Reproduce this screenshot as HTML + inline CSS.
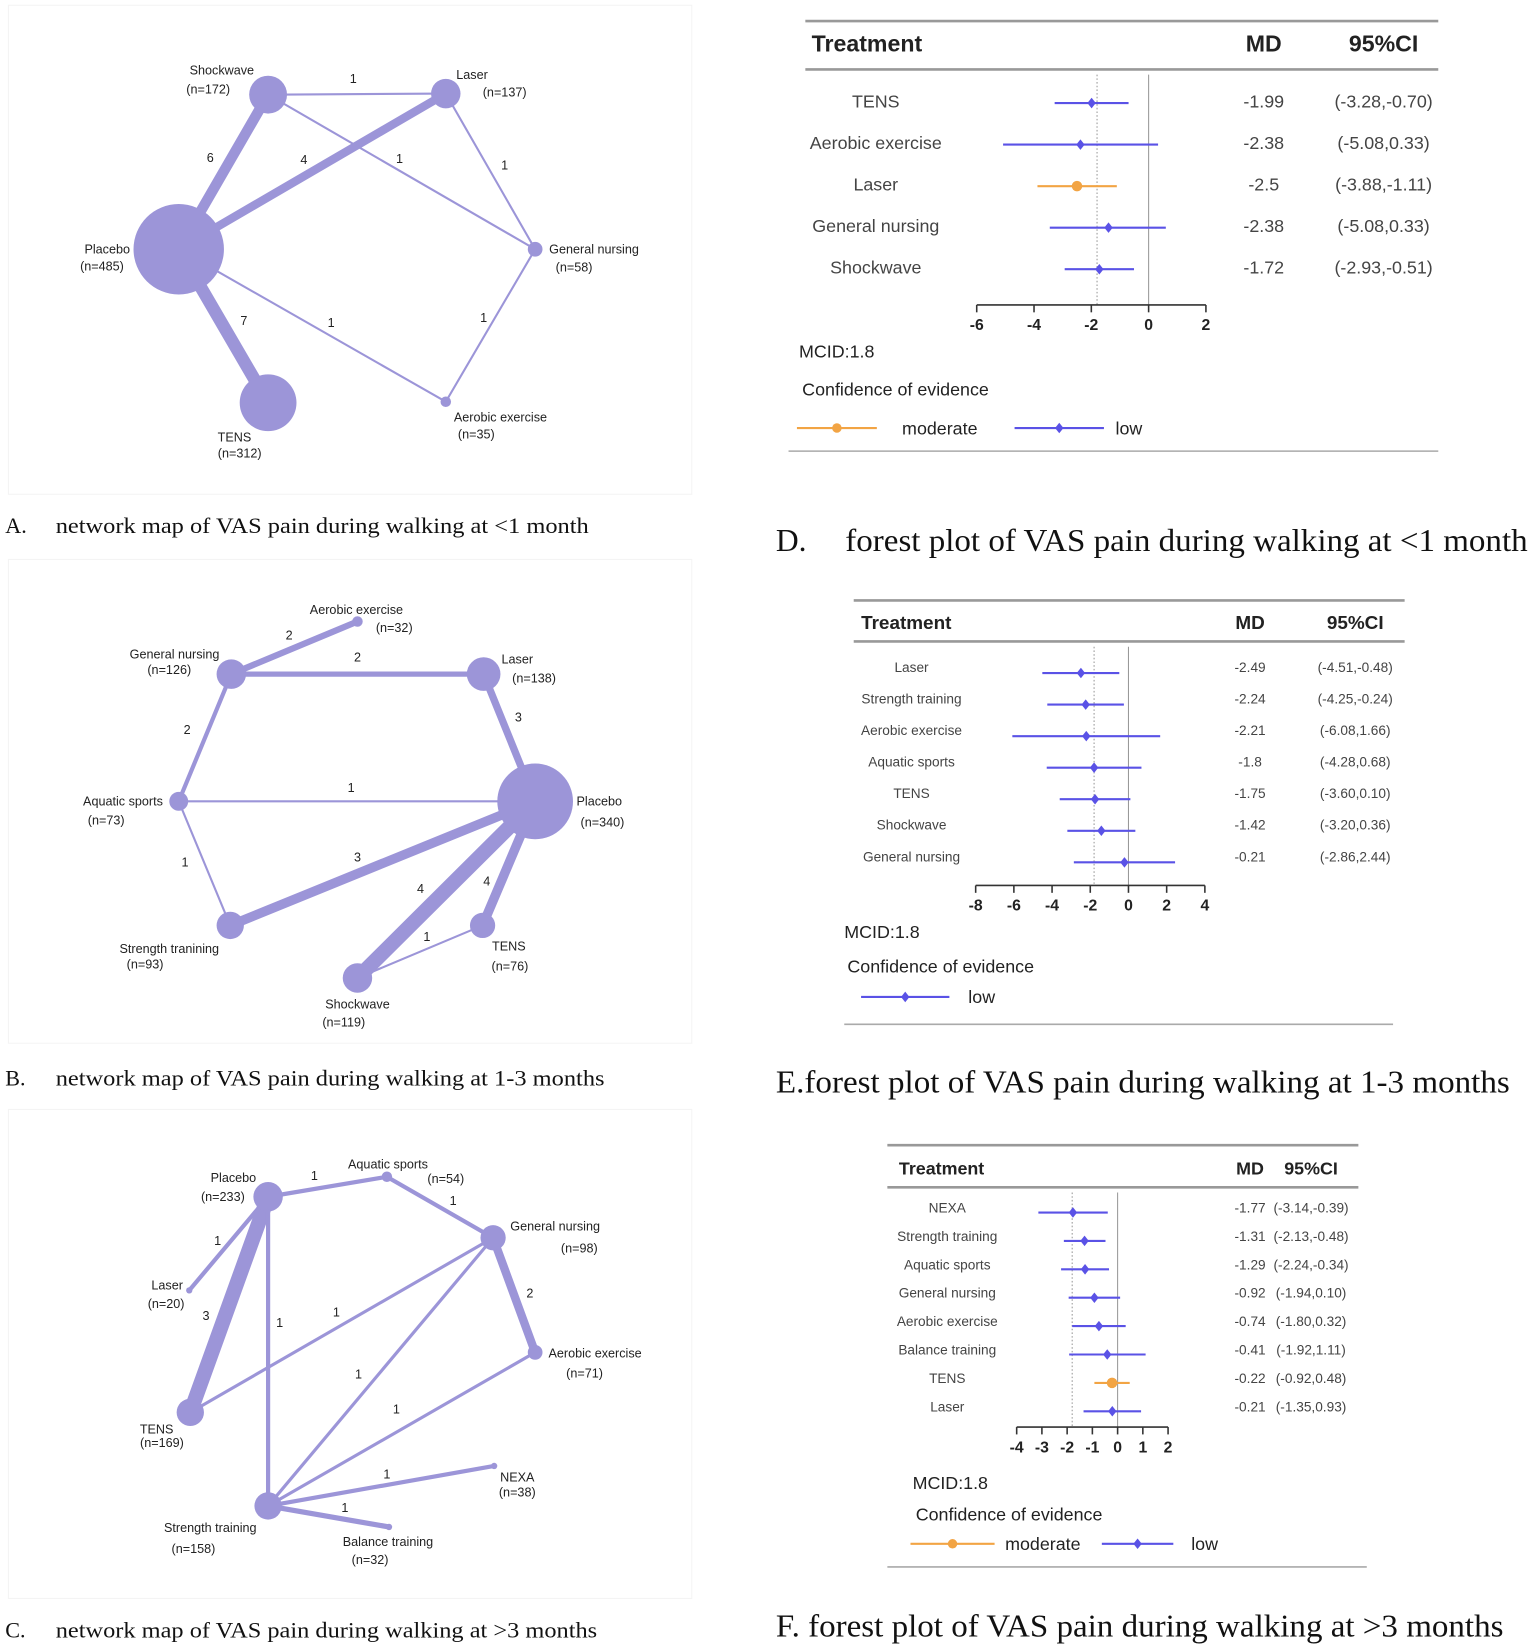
<!DOCTYPE html>
<html><head><meta charset="utf-8"><style>
html,body{margin:0;padding:0;background:#fff;}
svg{display:block;}
.nl{font-family:"Liberation Sans",Arial,sans-serif;font-size:12px;fill:#222;}
.cap{font-family:"Liberation Serif",serif;fill:#111;}
.fs{font-family:"Liberation Sans",Arial,sans-serif;}
</style></head><body>
<svg id="fig" width="1535" height="1650" viewBox="0 0 1460 1569" preserveAspectRatio="none" xmlns="http://www.w3.org/2000/svg">
<rect x="8" y="5" width="650" height="465" fill="none" stroke="#f4f4f4"/>
<rect x="8" y="532" width="650" height="460" fill="none" stroke="#f4f4f4"/>
<rect x="8" y="1055" width="650" height="465" fill="none" stroke="#f4f4f4"/>
<g id="gA"></g>
<g id="gB"></g>
<g id="gC"></g>
<g id="fD"></g>
<g id="fE"></g>
<g id="fF"></g>
<g><text class="cap" x="5" y="507" font-size="21">A.</text><text class="cap" x="53" y="507" font-size="21" textLength="507" lengthAdjust="spacingAndGlyphs">network map of VAS pain during walking at &lt;1 month</text></g>
<g><text class="cap" x="5" y="1032" font-size="21">B.</text><text class="cap" x="53" y="1032" font-size="21" textLength="522" lengthAdjust="spacingAndGlyphs">network map of VAS pain during walking at 1-3 months</text></g>
<g><text class="cap" x="5" y="1557" font-size="21">C.</text><text class="cap" x="53" y="1557" font-size="21" textLength="515" lengthAdjust="spacingAndGlyphs">network map of VAS pain during walking at &gt;3 months</text></g>
<g><text class="cap" x="738" y="524" font-size="30">D.</text><text class="cap" x="804" y="524" font-size="30" textLength="649" lengthAdjust="spacingAndGlyphs">forest plot of VAS pain during walking at &lt;1 month</text></g>
<text class="cap" x="738" y="1039" font-size="30" textLength="698" lengthAdjust="spacingAndGlyphs">E.forest plot of VAS pain during walking at 1-3 months</text>
<text class="cap" x="738" y="1556" font-size="30" textLength="692" lengthAdjust="spacingAndGlyphs">F. forest plot of VAS pain during walking at &gt;3 months</text>
</svg>
<script>
// ---- Network data ----
const nodesA = [["Shockwave",255,90,18],["Laser",424,89,14],["Placebo",170,237,43],["General nursing",509,237,7],["Aerobic exercise",424,382,5],["TENS",255,383,27]];
const labelsA = [["Shockwave",211,71,"(n=172)",198,89],["Laser",449,75,"(n=137)",480,92],["Placebo",102,241,"(n=485)",97,257],["General nursing",565,241,"(n=58)",546,258],["Aerobic exercise",476,401,"(n=35)",453,417],["TENS",223,420,"(n=312)",228,435]];
const edgesA = [[0,1,2,"1",336,79],[0,2,10,"6",200,154],[1,2,8,"4",289,156],[0,3,2,"1",380,155],[1,3,2,"1",480,161],[2,5,12,"7",232,309],[2,4,2,"1",315,311],[3,4,2,"1",460,306]];
const nodesB = [["Aerobic exercise",340,591,5],["General nursing",220,641,14],["Laser",460,641,16],["Aquatic sports",170,762,9],["Placebo",509,762,36],["Strength tranining",219,880,13],["TENS",459,880,12],["Shockwave",340,930,14]];
const labelsB = [["Aerobic exercise",339,584,"(n=32)",375,601],["General nursing",166,626,"(n=126)",161,641],["Laser",492,631,"(n=138)",508,649],["Aquatic sports",117,766,"(n=73)",101,784],["Placebo",570,766,"(n=340)",573,786],["Strength tranining",161,906,"(n=93)",138,921],["TENS",484,904,"(n=76)",485,923],["Shockwave",340,959,"(n=119)",327,976]];
const edgesB = [[1,0,6,"2",275,608],[1,2,5,"2",340,629],[1,3,4,"2",178,698],[2,4,7,"3",493,686],[3,4,2,"1",334,753],[3,5,2,"1",176,824],[5,4,9,"3",340,819],[7,4,14,"4",400,849],[6,4,9,"4",463,842],[7,6,2,"1",406,895]];
const nodesC = [["Placebo",255,1138,14],["Aquatic sports",368,1119,5],["General nursing",469,1177,12],["Laser",180,1227,3],["Aerobic exercise",509,1286,7],["TENS",181,1343,13],["Strength training",255,1432,13],["NEXA",470,1394,3],["Balance training",370,1452,3]];
const labelsC = [["Placebo",222,1124,"(n=233)",212,1142],["Aquatic sports",369,1111,"(n=54)",424,1125],["General nursing",528,1170,"(n=98)",551,1191],["Laser",159,1226,"(n=20)",158,1244],["Aerobic exercise",566,1291,"(n=71)",556,1310],["TENS",149,1363,"(n=169)",154,1376],["NEXA",492,1409,"(n=38)",492,1423],["Strength training",200,1457,"(n=158)",184,1477],["Balance training",369,1470,"(n=32)",352,1487]];
const edgesC = [[0,1,4,"1",299,1122],[1,2,4,"1",431,1146],[0,3,4,"1",207,1184],[0,5,14,"3",196,1255],[0,6,4,"1",266,1262],[2,5,3,"1",320,1252],[2,4,8,"2",504,1234],[2,6,3,"1",341,1311],[4,6,3,"1",377,1344],[6,7,4,"1",368,1406],[6,8,5,"1",328,1438]];

// ---- Forest data ----
const treatD = ["TENS","Aerobic exercise","Laser","General nursing","Shockwave"];
const mdTextD = ["-1.99","-2.38","-2.5","-2.38","-1.72"];
const ciTextD = ["(-3.28,-0.70)","(-5.08,0.33)","(-3.88,-1.11)","(-5.08,0.33)","(-2.93,-0.51)"];
const ptD = [-1.99,-2.38,-2.5,-1.4,-1.72];
const loD = [-3.28,-5.08,-3.88,-3.45,-2.93];
const hiD = [-0.70,0.33,-1.11,0.6,-0.51];
const gradeD = ["low","low","moderate","low","low"];
const ticksD = [-6,-4,-2,0,2];

const treatE = ["Laser","Strength training","Aerobic exercise","Aquatic sports","TENS","Shockwave","General nursing"];
const mdTextE = ["-2.49","-2.24","-2.21","-1.8","-1.75","-1.42","-0.21"];
const ciTextE = ["(-4.51,-0.48)","(-4.25,-0.24)","(-6.08,1.66)","(-4.28,0.68)","(-3.60,0.10)","(-3.20,0.36)","(-2.86,2.44)"];
const ptE = [-2.49,-2.24,-2.21,-1.8,-1.75,-1.42,-0.21];
const loE = [-4.51,-4.25,-6.08,-4.28,-3.60,-3.20,-2.86];
const hiE = [-0.48,-0.24,1.66,0.68,0.10,0.36,2.44];
const gradeE = ["low","low","low","low","low","low","low"];
const ticksE = [-8,-6,-4,-2,0,2,4];

const treatF = ["NEXA","Strength training","Aquatic sports","General nursing","Aerobic exercise","Balance training","TENS","Laser"];
const mdTextF = ["-1.77","-1.31","-1.29","-0.92","-0.74","-0.41","-0.22","-0.21"];
const ciTextF = ["(-3.14,-0.39)","(-2.13,-0.48)","(-2.24,-0.34)","(-1.94,0.10)","(-1.80,0.32)","(-1.92,1.11)","(-0.92,0.48)","(-1.35,0.93)"];
const ptF = [-1.77,-1.31,-1.29,-0.92,-0.74,-0.41,-0.22,-0.21];
const loF = [-3.14,-2.13,-2.24,-1.94,-1.80,-1.92,-0.92,-1.35];
const hiF = [-0.39,-0.48,-0.34,0.10,0.32,1.11,0.48,0.93];
const gradeF = ["low","low","low","low","low","low","moderate","low"];
const ticksF = [-4,-3,-2,-1,0,1,2];
const MCID = 1.8;

const NS = "http://www.w3.org/2000/svg";
function mk(tag, attrs, parent){const e=document.createElementNS(NS,tag);for(const k in attrs)e.setAttribute(k,attrs[k]);parent.appendChild(e);return e;}
const NET = "#9c95d8";

function drawNet(g, nodes, labels, edges){
  edges.forEach(ed=>{
    const a=nodes[ed[0]], b=nodes[ed[1]];
    const l=mk("line",{x1:a[1],y1:a[2],x2:b[1],y2:b[2],stroke:NET,"stroke-width":ed[2],"stroke-linecap":"round"},g);
    
    
    const t=mk("text",{x:ed[4],y:ed[5],"text-anchor":"middle",class:"nl"},g);t.textContent=ed[3];
    
    
  });
  nodes.forEach(n=>{
    const c=mk("circle",{cx:n[1],cy:n[2],r:n[3],fill:NET},g);
    
    
  });
  labels.forEach(l=>{
    const t=mk("text",{x:l[1],y:l[2],"text-anchor":"middle",class:"nl"},g);t.textContent=l[0];
    
    
    const t2=mk("text",{x:l[4],y:l[5],"text-anchor":"middle",class:"nl"},g);t2.textContent=l[3];
    
    
  });
}
drawNet(document.getElementById("gA"),nodesA,labelsA,edgesA);
drawNet(document.getElementById("gB"),nodesB,labelsB,edgesB);
drawNet(document.getElementById("gC"),nodesC,labelsC,edgesC);

const BLUE="#5a52e6", ORG="#f2a444";
function txt(g,x,y,s,size,anchor,weight,fill,name){
  const t=mk("text",{x:x,y:y,"font-size":size,"text-anchor":anchor||"start","font-weight":weight||"normal",fill:fill||"#333",class:"fs"},g);
  t.textContent=s;
  
  
  return t;
}
function drawForest(g,c,treat,mdT,ciT,pt,lo,hi,grade,ticks){
  const sx=v=>c.x0+(v-ticks[0])*(c.x1-c.x0)/(ticks[ticks.length-1]-ticks[0]);
  mk("line",{x1:c.rl,x2:c.rr,y1:c.top,y2:c.top,stroke:"#999","stroke-width":2.5},g);
  mk("line",{x1:c.rl,x2:c.rr,y1:c.hr,y2:c.hr,stroke:"#999","stroke-width":2.5},g);
  mk("line",{x1:c.bl,x2:c.br,y1:c.bot,y2:c.bot,stroke:"#aaa","stroke-width":1.5},g);
  txt(g,c.tx,c.hy,"Treatment",c.hs,"start","bold","#222","header-treatment");
  txt(g,c.mdx,c.hy,"MD",c.hs,"middle","bold","#222","header-md");
  txt(g,c.cix,c.hy,"95%CI",c.hs,"middle","bold","#222","header-ci");
  mk("line",{x1:sx(0),x2:sx(0),y1:c.hr+5,y2:c.ay,stroke:"#999","stroke-width":1},g);
  mk("line",{x1:sx(-MCID),x2:sx(-MCID),y1:c.hr+5,y2:c.ay,stroke:"#999","stroke-width":1,"stroke-dasharray":"1.5,2"},g);
  treat.forEach((n,i)=>{
    const y=c.ry0+i*c.dy;
    txt(g,c.nx,y+5,n,c.ts,"middle","normal","#444","treatment-label");
    txt(g,c.mdx,y+5,mdT[i],c.ts,"middle","normal","#444","md-value");
    txt(g,c.cix,y+5,ciT[i],c.ts,"middle","normal","#444","ci-value");
    const col=grade[i]=="moderate"?ORG:BLUE, my=y+c.mo;
    const l=mk("line",{x1:sx(lo[i]),x2:sx(hi[i]),y1:my,y2:my,stroke:col,"stroke-width":2},g);
    
    
    let p;
    if(grade[i]=="moderate") p=mk("circle",{cx:sx(pt[i]),cy:my,r:5,fill:col},g);
    else {const x=sx(pt[i]);p=mk("polygon",{points:`${x},${my-5} ${x+4},${my} ${x},${my+5} ${x-4},${my}`,fill:col},g);}
    
    
  });
  mk("line",{x1:sx(ticks[0]),x2:sx(ticks[ticks.length-1]),y1:c.ay,y2:c.ay,stroke:"#333","stroke-width":1.5},g);
  ticks.forEach(t=>{
    mk("line",{x1:sx(t),x2:sx(t),y1:c.ay,y2:c.ay+7,stroke:"#333","stroke-width":1.5},g);
    txt(g,sx(t),c.ay+24,String(t),c.ks,"middle","bold","#222","x-tick-label");
  });
  txt(g,c.lx,c.my,"MCID:1.8",c.ls,"start","normal","#222","mcid-label");
  txt(g,c.lx+3,c.cy,"Confidence of evidence",c.ls,"start","normal","#222","legend-title");
  c.leg.forEach(L=>{
    const col=L[0]=="moderate"?ORG:BLUE;
    mk("line",{x1:L[1],x2:L[2],y1:c.ly,y2:c.ly,stroke:col,"stroke-width":2},g);
    const m=(L[1]+L[2])/2;
    if(L[0]=="moderate") mk("circle",{cx:m,cy:c.ly,r:4.5,fill:col},g);
    else mk("polygon",{points:`${m},${c.ly-5} ${m+4},${c.ly} ${m},${c.ly+5} ${m-4},${c.ly}`,fill:col},g);
    txt(g,L[3],c.ly+6,L[0],c.ls,"start","normal","#222","legend-entry");
  });
}
drawForest(document.getElementById("fD"),{rl:766,rr:1368,top:20,hr:66,bl:750,br:1368,bot:429,tx:772,hy:49,hs:22,mdx:1202,cix:1316,ry0:97,dy:39.5,mo:1,nx:833,ts:17,x0:929,x1:1147,ay:290,ks:15,lx:760,my:340,cy:376,ls:17,ly:407,leg:[["moderate",758,834,858],["low",965,1050,1061]]},treatD,mdTextD,ciTextD,ptD,loD,hiD,gradeD,ticksD);
drawForest(document.getElementById("fE"),{rl:812,rr:1336,top:571,hr:610,bl:803,br:1325,bot:974,tx:819,hy:598,hs:18,mdx:1189,cix:1289,ry0:634,dy:30,mo:6,nx:867,ts:13,x0:928,x1:1146,ay:842,ks:15,lx:803,my:892,cy:925,ls:17,ly:948,leg:[["low",819,903,921]]},treatE,mdTextE,ciTextE,ptE,loE,hiE,gradeE,ticksE);
drawForest(document.getElementById("fF"),{rl:844,rr:1292,top:1089,hr:1129,bl:844,br:1300,bot:1490,tx:855,hy:1117,hs:17,mdx:1189,cix:1247,ry0:1148,dy:27,mo:5,nx:901,ts:13,x0:967,x1:1111,ay:1357,ks:15,lx:868,my:1416,cy:1446,ls:17,ly:1468,leg:[["moderate",866,946,956],["low",1048,1116,1133]]},treatF,mdTextF,ciTextF,ptF,loF,hiF,gradeF,ticksF);
</script>
</body></html>
